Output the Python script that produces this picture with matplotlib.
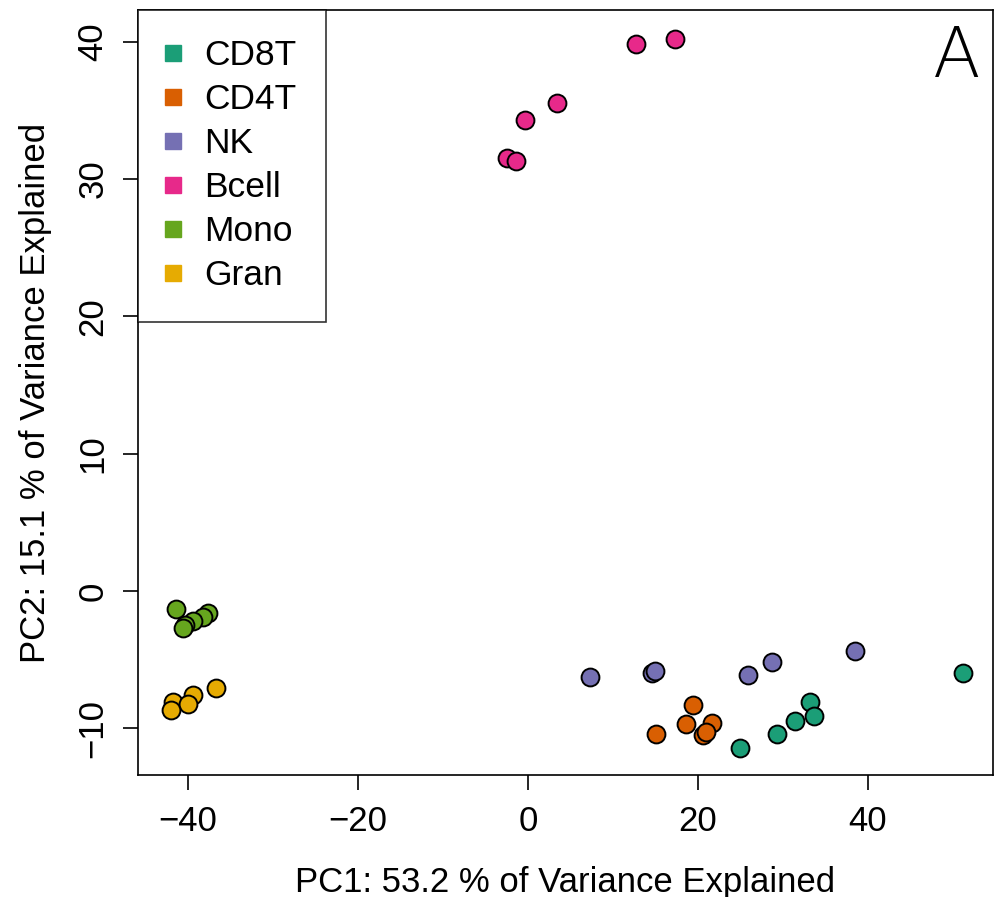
import matplotlib
matplotlib.use("Agg")
import matplotlib.pyplot as plt
from matplotlib.lines import Line2D

plt.rcParams['font.family'] = ['Liberation Sans', 'DejaVu Sans']

cell_types = ["CD8T", "CD4T", "NK", "Bcell", "Mono", "Gran"]
colors = ["#1B9E77", "#D95F02", "#7570B3", "#E7298A", "#66A61E", "#E6AB02"]

pc1_cd8t = [51.2, 33.2, 33.6, 31.4, 29.3, 24.9]
pc2_cd8t = [-6.0, -8.1, -9.1, -9.5, -10.4, -11.45]

pc1_cd4t = [19.45, 18.55, 21.7, 15.1, 20.6, 20.9]
pc2_cd4t = [-8.3, -9.7, -9.64, -10.45, -10.5, -10.25]

pc1_nk = [7.3, 14.55, 14.9, 25.9, 28.7, 38.5]
pc2_nk = [-6.24, -6.0, -5.8, -6.1, -5.15, -4.37]

pc1_bcell = [12.7, 17.3, 3.4, -0.4, -2.5, -1.4]
pc2_bcell = [39.8, 40.2, 35.5, 34.3, 31.5, 31.3]

pc1_mono = [-41.4, -37.6, -38.2, -39.4, -40.4, -40.6]
pc2_mono = [-1.33, -1.6, -1.87, -2.2, -2.5, -2.7]

pc1_gran = [-36.7, -39.4, -41.8, -40.0, -42.0]
pc2_gran = [-7.1, -7.6, -8.06, -8.2, -8.7]

groups = [
    (pc1_cd8t, pc2_cd8t),
    (pc1_cd4t, pc2_cd4t),
    (pc1_nk, pc2_nk),
    (pc1_bcell, pc2_bcell),
    (pc1_mono, pc2_mono),
    (pc1_gran, pc2_gran),
]

fig = plt.figure(figsize=(9.95, 8.97), dpi=100)
ax = fig.add_axes([0.1387, 0.136, 0.998 - 0.1387, 0.9889 - 0.136])

for (xs, ys), c in zip(groups, colors):
    ax.scatter(xs, ys, s=165, c=c, edgecolors="black", linewidths=1.4, zorder=3)

ax.set_xlim(-45.88, 54.7)
ax.set_ylim(-13.4, 42.3)
ax.set_xticks([-40, -20, 0, 20, 40])
ax.set_yticks([-10, 0, 10, 20, 30, 40])
ax.set_xticklabels(["\u221240", "\u221220", "0", "20", "40"])
ax.set_yticklabels(["\u221210", "0", "10", "20", "30", "40"], rotation=90, va="center")
ax.tick_params(axis="both", direction="out", length=10.5, width=1.2, labelsize=25)
ax.tick_params(axis="x", pad=11)
ax.tick_params(axis="y", pad=10)
for sp in ax.spines.values():
    sp.set_linewidth(1.2)

ax.set_xlabel("PC1: 53.2 % of Variance Explained", fontsize=25, labelpad=20)
ax.set_ylabel("PC2: 15.1 % of Variance Explained", fontsize=25, labelpad=18)

handles = [Line2D([0], [0], marker="s", linestyle="none", markersize=12,
                  markerfacecolor=c, markeredgecolor=c) for c in colors]
leg = ax.legend(handles, cell_types, loc="upper left", fontsize=25.5,
                frameon=True, fancybox=False, borderaxespad=0,
                handletextpad=0.75, labelspacing=0.31, borderpad=0.83,
                handlelength=0.3)
leg.get_frame().set_edgecolor("black")
leg.get_frame().set_linewidth(1.2)

ax.text(0.985, 0.982, "A", transform=ax.transAxes, ha="right", va="top",
        fontsize=50, family="DejaVu Sans", fontweight="light")

fig.savefig("out.png", dpi=100)
